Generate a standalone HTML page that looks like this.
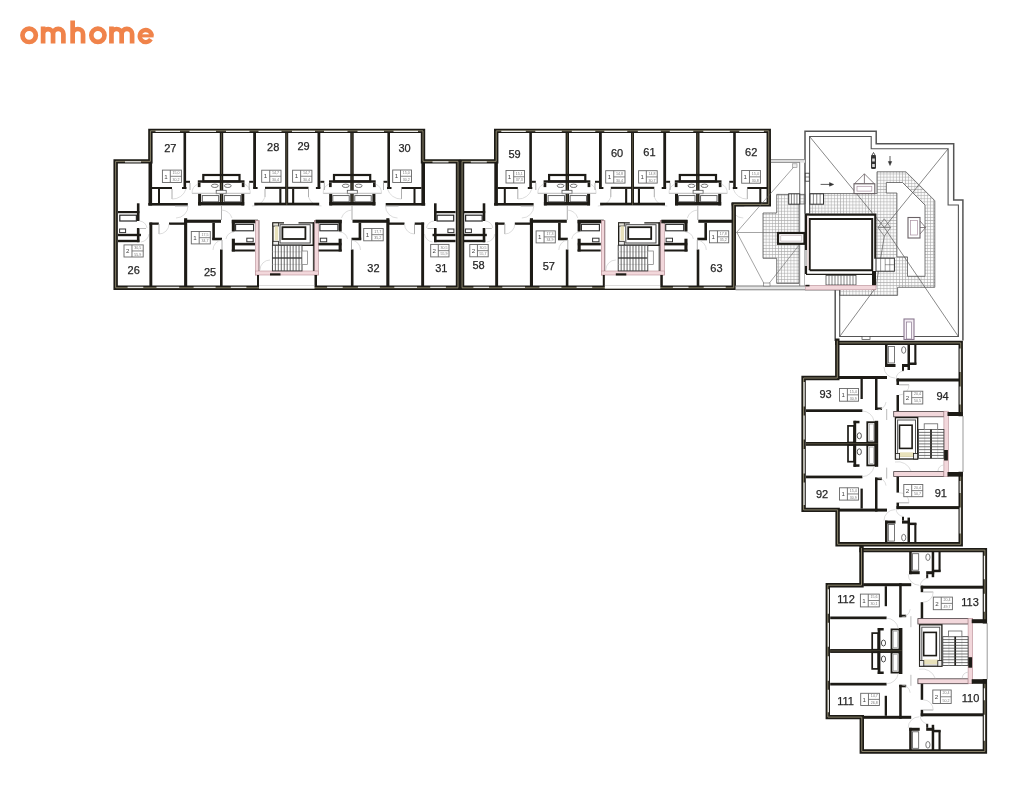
<!DOCTYPE html>
<html><head><meta charset="utf-8"><style>
html,body{margin:0;padding:0;background:#fff;width:1034px;height:800px;overflow:hidden}
svg{display:block;position:absolute;left:0;top:0;will-change:transform}
.logo{position:absolute;left:19.5px;top:15.5px;font:bold 30px "Liberation Sans",sans-serif;color:#ef8546;letter-spacing:2.1px;-webkit-text-stroke:0.8px #ef8546;z-index:2}
</style></head><body>
<svg width="1034" height="800" viewBox="0 0 1034 800">
<defs><pattern id="grid" width="3.1" height="3.1" patternUnits="userSpaceOnUse">
<rect width="3.1" height="3.1" fill="#fbfbfb"/><path d="M0,0.3 H3.1 M0.3,0 V3.1" stroke="#a4a4a4" stroke-width="0.6"/></pattern></defs>
<g><rect x="118" y="211" width="21.4" height="2.2" fill="#1d1b16"/><rect x="136.9" y="203.3" width="2.6" height="17.7" fill="#1d1b16"/><rect x="136.9" y="228" width="2.6" height="14.2" fill="#1d1b16"/><rect x="118" y="233.8" width="23" height="2.4" fill="#1d1b16"/><rect x="118" y="239.8" width="21.4" height="2.4" fill="#1d1b16"/><rect x="119.8" y="215.2" width="16.6" height="5.8" fill="#fff" stroke="#2a2a2a" stroke-width="1.2"/><rect x="119.6" y="229" width="6" height="3.6" fill="#fff" stroke="#333" stroke-width="1.0"/><line x1="139.5" y1="228.5" x2="146" y2="228.5" stroke="#aaa" stroke-width="0.8"/><path d="M139.5,221 A8,8 0 0 1 147,228" fill="none" stroke="#cfcfcf" stroke-width="0.7"/><path d="M141,242 A9,9 0 0 0 149,234" fill="none" stroke="#cfcfcf" stroke-width="0.7"/><rect x="148.5" y="163" width="3.6" height="42.5" fill="#1d1b16"/><rect x="148.3" y="203" width="39.5" height="2.6" fill="#1d1b16"/><rect x="152" y="187" width="20" height="2" fill="#1d1b16"/><rect x="158" y="189" width="2" height="14" fill="#1d1b16"/><line x1="172" y1="189" x2="172" y2="199" stroke="#999" stroke-width="0.8"/><line x1="175" y1="206" x2="188" y2="206" stroke="#999" stroke-width="0.8"/><path d="M172,199 A14,14 0 0 0 186,189" fill="none" stroke="#cfcfcf" stroke-width="0.7"/><path d="M188,206 A12,12 0 0 1 176,218" fill="none" stroke="#cfcfcf" stroke-width="0.7"/><rect x="183.5" y="133" width="2.6" height="55.5" fill="#1d1b16"/><rect x="182" y="187" width="4.5" height="2" fill="#1d1b16"/><rect x="186" y="180.8" width="4" height="2" fill="#1d1b16"/><line x1="190" y1="183" x2="190" y2="190" stroke="#999" stroke-width="0.8"/><rect x="219.8" y="133" width="3.4" height="72" fill="#1d1b16"/><line x1="221.5" y1="133" x2="221.5" y2="205" stroke="#6a644e" stroke-width="0.7"/><rect x="203.3" y="175" width="36.2" height="6.4" fill="none" stroke="#1d1b16" stroke-width="2.2"/><rect x="197.8" y="180.3" width="46.7" height="2.4" fill="#1d1b16"/><rect x="197.8" y="182.7" width="2.7" height="4.4" fill="#1d1b16"/><rect x="241.8" y="182.7" width="2.7" height="4.4" fill="#1d1b16"/><ellipse cx="214.8" cy="185.8" rx="3.4" ry="1.7" fill="#fff" stroke="#555" stroke-width="0.8"/><ellipse cx="227.8" cy="185.8" rx="3.4" ry="1.7" fill="#fff" stroke="#555" stroke-width="0.8"/><rect x="216.2" y="190.3" width="10" height="3.4" fill="#fff" stroke="#555" stroke-width="0.8"/><line x1="192" y1="193.3" x2="250.3" y2="193.3" stroke="#aaa" stroke-width="0.8"/><rect x="198.1" y="193.9" width="3" height="11.5" fill="#1d1b16"/><rect x="241.3" y="193.9" width="3" height="11.5" fill="#1d1b16"/><rect x="198.1" y="202" width="46.1" height="3.4" fill="#1d1b16"/><rect x="202.3" y="195.6" width="16.4" height="6.2" fill="#fff" stroke="#555" stroke-width="0.9"/><rect x="224.3" y="195.6" width="16.4" height="6.2" fill="#fff" stroke="#555" stroke-width="0.9"/><path d="M192,193.3 A10,10 0 0 1 198,184" fill="none" stroke="#cfcfcf" stroke-width="0.7"/><path d="M250.3,193.3 A10,10 0 0 0 244.5,184" fill="none" stroke="#cfcfcf" stroke-width="0.7"/><rect x="253.2" y="133" width="2.8" height="55.5" fill="#1d1b16"/><rect x="253.2" y="187" width="4.4" height="2" fill="#1d1b16"/><rect x="249.2" y="180.8" width="4" height="2" fill="#1d1b16"/><line x1="249.2" y1="183" x2="249.2" y2="190" stroke="#999" stroke-width="0.8"/><rect x="265" y="186.8" width="21.8" height="2.1" fill="#1d1b16"/><rect x="279.3" y="188.9" width="2.1" height="15.4" fill="#1d1b16"/><line x1="265" y1="189" x2="265" y2="197" stroke="#999" stroke-width="0.8"/><path d="M265,197 A13,13 0 0 1 252,206" fill="none" stroke="#cfcfcf" stroke-width="0.7"/><rect x="254.3" y="202.7" width="32.5" height="2.7" fill="#1d1b16"/><rect x="285.4" y="133" width="2.7" height="72" fill="#1d1b16"/><line x1="286.75" y1="133" x2="286.75" y2="205" stroke="#6a644e" stroke-width="0.7"/><rect x="149.4" y="222.5" width="2.9" height="64" fill="#1d1b16"/><rect x="149.4" y="222.5" width="9.4" height="2.3" fill="#1d1b16"/><rect x="169" y="222.5" width="16" height="2.3" fill="#1d1b16"/><line x1="159" y1="224" x2="159" y2="234" stroke="#999" stroke-width="0.8"/><path d="M159,234 A10,10 0 0 0 169,224" fill="none" stroke="#cfcfcf" stroke-width="0.7"/><rect x="184.1" y="218.2" width="3.1" height="68.2" fill="#1d1b16"/><rect x="184" y="219.7" width="37" height="3.1" fill="#1d1b16"/><rect x="212.3" y="222.8" width="2.6" height="17" fill="#1d1b16"/><rect x="212.3" y="237.7" width="9.7" height="2.6" fill="#1d1b16"/><line x1="221.5" y1="205" x2="221.5" y2="220" stroke="#999" stroke-width="0.8"/><path d="M221.5,210 A12,12 0 0 1 232,218" fill="none" stroke="#cfcfcf" stroke-width="0.7"/><rect x="220" y="249.5" width="2.6" height="37" fill="#1d1b16"/><line x1="222" y1="240" x2="222" y2="249.5" stroke="#999" stroke-width="0.8"/><path d="M222,240 A10,10 0 0 0 213,250" fill="none" stroke="#cfcfcf" stroke-width="0.7"/><path d="M234,232 A8,8 0 0 0 226,239" fill="none" stroke="#cfcfcf" stroke-width="0.7"/><rect x="231.8" y="219.7" width="26.2" height="3.6" fill="#1d1b16"/><rect x="231.8" y="220" width="3.1" height="11.5" fill="#1d1b16"/><rect x="231.8" y="238.7" width="3.1" height="12.8" fill="#1d1b16"/><rect x="232" y="242.8" width="23" height="2.6" fill="#1d1b16"/><rect x="231.8" y="249.5" width="23.1" height="2" fill="#1d1b16"/><rect x="235.6" y="224.4" width="18" height="6.4" fill="#fff" stroke="#2a2a2a" stroke-width="1.1"/><rect x="246.8" y="238.2" width="6.4" height="3.6" fill="#fff" stroke="#333" stroke-width="1.0"/><rect x="255.5" y="220.5" width="3.5" height="54.5" fill="#f2d7db" stroke="#b88e96" stroke-width="0.6"/><rect x="314.5" y="220.5" width="4" height="54.5" fill="#f2d7db" stroke="#b88e96" stroke-width="0.6"/><rect x="255.5" y="271" width="63" height="4" fill="#f2d7db" stroke="#b88e96" stroke-width="0.6"/><line x1="259" y1="220.5" x2="259" y2="271" stroke="#6d5a5e" stroke-width="0.6"/><line x1="314.5" y1="220.5" x2="314.5" y2="271" stroke="#6d5a5e" stroke-width="0.6"/><rect x="270" y="273.3" width="10.5" height="2.2" fill="#1d1b16"/><rect x="257" y="275" width="2" height="13" fill="#1d1b16"/><rect x="314.5" y="275" width="2.5" height="13" fill="#1d1b16"/><path d="M284,222.9 H272.9 V245.3 H313.3 V222.9 H298.5" fill="none" stroke="#1d1b16" stroke-width="1.4" /><rect x="280" y="224.7" width="30.2" height="18.3" fill="#fff" stroke="#444" stroke-width="1.0"/><rect x="282.4" y="227.2" width="23" height="11.8" fill="#fff" stroke="#1d1b16" stroke-width="1.8"/><rect x="272.9" y="222.9" width="5.6" height="3.2" fill="#e6e4da" stroke="#1d1b16" stroke-width="0.8"/><rect x="274.8" y="226.3" width="3.4" height="14" fill="#e9e2bb"/><rect x="272.9" y="241.3" width="5.6" height="3.8" fill="#f0f0f0" stroke="#1d1b16" stroke-width="0.8"/><rect x="272.4" y="245.3" width="29.6" height="25.6" fill="#fff" stroke="#333" stroke-width="0.9"/><line x1="272.4" y1="258" x2="302" y2="258" stroke="#222" stroke-width="1.2"/><line x1="272.4" y1="251.8" x2="302" y2="251.8" stroke="#bbb" stroke-width="0.5"/><line x1="272.4" y1="264.4" x2="302" y2="264.4" stroke="#bbb" stroke-width="0.5"/><rect x="302" y="251" width="5.5" height="13.5" fill="#fff" stroke="#777" stroke-width="0.7"/><line x1="313.4" y1="222" x2="313.4" y2="271" stroke="#1d1b16" stroke-width="0.9"/><line x1="275.35999999999996" y1="245.3" x2="275.35999999999996" y2="270.9" stroke="#333" stroke-width="0.75"/><line x1="278.32" y1="245.3" x2="278.32" y2="270.9" stroke="#333" stroke-width="0.75"/><line x1="281.28" y1="245.3" x2="281.28" y2="270.9" stroke="#333" stroke-width="0.75"/><line x1="284.23999999999995" y1="245.3" x2="284.23999999999995" y2="270.9" stroke="#333" stroke-width="0.75"/><line x1="287.2" y1="245.3" x2="287.2" y2="270.9" stroke="#333" stroke-width="0.75"/><line x1="290.15999999999997" y1="245.3" x2="290.15999999999997" y2="270.9" stroke="#333" stroke-width="0.75"/><line x1="293.12" y1="245.3" x2="293.12" y2="270.9" stroke="#333" stroke-width="0.75"/><line x1="296.08" y1="245.3" x2="296.08" y2="270.9" stroke="#333" stroke-width="0.75"/><line x1="299.03999999999996" y1="245.3" x2="299.03999999999996" y2="270.9" stroke="#333" stroke-width="0.75"/><path d="M260,270 A10,10 0 0 1 270,260" fill="none" stroke="#cfcfcf" stroke-width="0.7"/></g><g transform="matrix(-1 0 0 1 573.5 0)"><rect x="118" y="211" width="21.4" height="2.2" fill="#1d1b16"/><rect x="136.9" y="203.3" width="2.6" height="17.7" fill="#1d1b16"/><rect x="136.9" y="228" width="2.6" height="14.2" fill="#1d1b16"/><rect x="118" y="233.8" width="23" height="2.4" fill="#1d1b16"/><rect x="118" y="239.8" width="21.4" height="2.4" fill="#1d1b16"/><rect x="119.8" y="215.2" width="16.6" height="5.8" fill="#fff" stroke="#2a2a2a" stroke-width="1.2"/><rect x="119.6" y="229" width="6" height="3.6" fill="#fff" stroke="#333" stroke-width="1.0"/><line x1="139.5" y1="228.5" x2="146" y2="228.5" stroke="#aaa" stroke-width="0.8"/><path d="M139.5,221 A8,8 0 0 1 147,228" fill="none" stroke="#cfcfcf" stroke-width="0.7"/><path d="M141,242 A9,9 0 0 0 149,234" fill="none" stroke="#cfcfcf" stroke-width="0.7"/><rect x="148.5" y="163" width="3.6" height="42.5" fill="#1d1b16"/><rect x="148.3" y="203" width="39.5" height="2.6" fill="#1d1b16"/><rect x="152" y="187" width="20" height="2" fill="#1d1b16"/><rect x="158" y="189" width="2" height="14" fill="#1d1b16"/><line x1="172" y1="189" x2="172" y2="199" stroke="#999" stroke-width="0.8"/><line x1="175" y1="206" x2="188" y2="206" stroke="#999" stroke-width="0.8"/><path d="M172,199 A14,14 0 0 0 186,189" fill="none" stroke="#cfcfcf" stroke-width="0.7"/><path d="M188,206 A12,12 0 0 1 176,218" fill="none" stroke="#cfcfcf" stroke-width="0.7"/><rect x="183.5" y="133" width="2.6" height="55.5" fill="#1d1b16"/><rect x="182" y="187" width="4.5" height="2" fill="#1d1b16"/><rect x="186" y="180.8" width="4" height="2" fill="#1d1b16"/><line x1="190" y1="183" x2="190" y2="190" stroke="#999" stroke-width="0.8"/><rect x="219.8" y="133" width="3.4" height="72" fill="#1d1b16"/><line x1="221.5" y1="133" x2="221.5" y2="205" stroke="#6a644e" stroke-width="0.7"/><rect x="203.3" y="175" width="36.2" height="6.4" fill="none" stroke="#1d1b16" stroke-width="2.2"/><rect x="197.8" y="180.3" width="46.7" height="2.4" fill="#1d1b16"/><rect x="197.8" y="182.7" width="2.7" height="4.4" fill="#1d1b16"/><rect x="241.8" y="182.7" width="2.7" height="4.4" fill="#1d1b16"/><ellipse cx="214.8" cy="185.8" rx="3.4" ry="1.7" fill="#fff" stroke="#555" stroke-width="0.8"/><ellipse cx="227.8" cy="185.8" rx="3.4" ry="1.7" fill="#fff" stroke="#555" stroke-width="0.8"/><rect x="216.2" y="190.3" width="10" height="3.4" fill="#fff" stroke="#555" stroke-width="0.8"/><line x1="192" y1="193.3" x2="250.3" y2="193.3" stroke="#aaa" stroke-width="0.8"/><rect x="198.1" y="193.9" width="3" height="11.5" fill="#1d1b16"/><rect x="241.3" y="193.9" width="3" height="11.5" fill="#1d1b16"/><rect x="198.1" y="202" width="46.1" height="3.4" fill="#1d1b16"/><rect x="202.3" y="195.6" width="16.4" height="6.2" fill="#fff" stroke="#555" stroke-width="0.9"/><rect x="224.3" y="195.6" width="16.4" height="6.2" fill="#fff" stroke="#555" stroke-width="0.9"/><path d="M192,193.3 A10,10 0 0 1 198,184" fill="none" stroke="#cfcfcf" stroke-width="0.7"/><path d="M250.3,193.3 A10,10 0 0 0 244.5,184" fill="none" stroke="#cfcfcf" stroke-width="0.7"/><rect x="253.2" y="133" width="2.8" height="55.5" fill="#1d1b16"/><rect x="253.2" y="187" width="4.4" height="2" fill="#1d1b16"/><rect x="249.2" y="180.8" width="4" height="2" fill="#1d1b16"/><line x1="249.2" y1="183" x2="249.2" y2="190" stroke="#999" stroke-width="0.8"/><rect x="265" y="186.8" width="21.8" height="2.1" fill="#1d1b16"/><rect x="279.3" y="188.9" width="2.1" height="15.4" fill="#1d1b16"/><line x1="265" y1="189" x2="265" y2="197" stroke="#999" stroke-width="0.8"/><path d="M265,197 A13,13 0 0 1 252,206" fill="none" stroke="#cfcfcf" stroke-width="0.7"/><rect x="254.3" y="202.7" width="32.5" height="2.7" fill="#1d1b16"/><rect x="285.4" y="133" width="2.7" height="72" fill="#1d1b16"/><line x1="286.75" y1="133" x2="286.75" y2="205" stroke="#6a644e" stroke-width="0.7"/><rect x="149.4" y="222.5" width="2.9" height="64" fill="#1d1b16"/><rect x="149.4" y="222.5" width="9.4" height="2.3" fill="#1d1b16"/><rect x="169" y="222.5" width="16" height="2.3" fill="#1d1b16"/><line x1="159" y1="224" x2="159" y2="234" stroke="#999" stroke-width="0.8"/><path d="M159,234 A10,10 0 0 0 169,224" fill="none" stroke="#cfcfcf" stroke-width="0.7"/><rect x="184.1" y="218.2" width="3.1" height="68.2" fill="#1d1b16"/><rect x="184" y="219.7" width="37" height="3.1" fill="#1d1b16"/><rect x="212.3" y="222.8" width="2.6" height="17" fill="#1d1b16"/><rect x="212.3" y="237.7" width="9.7" height="2.6" fill="#1d1b16"/><line x1="221.5" y1="205" x2="221.5" y2="220" stroke="#999" stroke-width="0.8"/><path d="M221.5,210 A12,12 0 0 1 232,218" fill="none" stroke="#cfcfcf" stroke-width="0.7"/><rect x="220" y="249.5" width="2.6" height="37" fill="#1d1b16"/><line x1="222" y1="240" x2="222" y2="249.5" stroke="#999" stroke-width="0.8"/><path d="M222,240 A10,10 0 0 0 213,250" fill="none" stroke="#cfcfcf" stroke-width="0.7"/><path d="M234,232 A8,8 0 0 0 226,239" fill="none" stroke="#cfcfcf" stroke-width="0.7"/><rect x="231.8" y="219.7" width="26.2" height="3.6" fill="#1d1b16"/><rect x="231.8" y="220" width="3.1" height="11.5" fill="#1d1b16"/><rect x="231.8" y="238.7" width="3.1" height="12.8" fill="#1d1b16"/><rect x="232" y="242.8" width="23" height="2.6" fill="#1d1b16"/><rect x="231.8" y="249.5" width="23.1" height="2" fill="#1d1b16"/><rect x="235.6" y="224.4" width="18" height="6.4" fill="#fff" stroke="#2a2a2a" stroke-width="1.1"/><rect x="246.8" y="238.2" width="6.4" height="3.6" fill="#fff" stroke="#333" stroke-width="1.0"/></g><g transform="translate(345.8 0)"><rect x="118" y="211" width="21.4" height="2.2" fill="#1d1b16"/><rect x="136.9" y="203.3" width="2.6" height="17.7" fill="#1d1b16"/><rect x="136.9" y="228" width="2.6" height="14.2" fill="#1d1b16"/><rect x="118" y="233.8" width="23" height="2.4" fill="#1d1b16"/><rect x="118" y="239.8" width="21.4" height="2.4" fill="#1d1b16"/><rect x="119.8" y="215.2" width="16.6" height="5.8" fill="#fff" stroke="#2a2a2a" stroke-width="1.2"/><rect x="119.6" y="229" width="6" height="3.6" fill="#fff" stroke="#333" stroke-width="1.0"/><line x1="139.5" y1="228.5" x2="146" y2="228.5" stroke="#aaa" stroke-width="0.8"/><path d="M139.5,221 A8,8 0 0 1 147,228" fill="none" stroke="#cfcfcf" stroke-width="0.7"/><path d="M141,242 A9,9 0 0 0 149,234" fill="none" stroke="#cfcfcf" stroke-width="0.7"/><rect x="148.5" y="163" width="3.6" height="42.5" fill="#1d1b16"/><rect x="148.3" y="203" width="39.5" height="2.6" fill="#1d1b16"/><rect x="152" y="187" width="20" height="2" fill="#1d1b16"/><rect x="158" y="189" width="2" height="14" fill="#1d1b16"/><line x1="172" y1="189" x2="172" y2="199" stroke="#999" stroke-width="0.8"/><line x1="175" y1="206" x2="188" y2="206" stroke="#999" stroke-width="0.8"/><path d="M172,199 A14,14 0 0 0 186,189" fill="none" stroke="#cfcfcf" stroke-width="0.7"/><path d="M188,206 A12,12 0 0 1 176,218" fill="none" stroke="#cfcfcf" stroke-width="0.7"/><rect x="183.5" y="133" width="2.6" height="55.5" fill="#1d1b16"/><rect x="182" y="187" width="4.5" height="2" fill="#1d1b16"/><rect x="186" y="180.8" width="4" height="2" fill="#1d1b16"/><line x1="190" y1="183" x2="190" y2="190" stroke="#999" stroke-width="0.8"/><rect x="219.8" y="133" width="3.4" height="72" fill="#1d1b16"/><line x1="221.5" y1="133" x2="221.5" y2="205" stroke="#6a644e" stroke-width="0.7"/><rect x="203.3" y="175" width="36.2" height="6.4" fill="none" stroke="#1d1b16" stroke-width="2.2"/><rect x="197.8" y="180.3" width="46.7" height="2.4" fill="#1d1b16"/><rect x="197.8" y="182.7" width="2.7" height="4.4" fill="#1d1b16"/><rect x="241.8" y="182.7" width="2.7" height="4.4" fill="#1d1b16"/><ellipse cx="214.8" cy="185.8" rx="3.4" ry="1.7" fill="#fff" stroke="#555" stroke-width="0.8"/><ellipse cx="227.8" cy="185.8" rx="3.4" ry="1.7" fill="#fff" stroke="#555" stroke-width="0.8"/><rect x="216.2" y="190.3" width="10" height="3.4" fill="#fff" stroke="#555" stroke-width="0.8"/><line x1="192" y1="193.3" x2="250.3" y2="193.3" stroke="#aaa" stroke-width="0.8"/><rect x="198.1" y="193.9" width="3" height="11.5" fill="#1d1b16"/><rect x="241.3" y="193.9" width="3" height="11.5" fill="#1d1b16"/><rect x="198.1" y="202" width="46.1" height="3.4" fill="#1d1b16"/><rect x="202.3" y="195.6" width="16.4" height="6.2" fill="#fff" stroke="#555" stroke-width="0.9"/><rect x="224.3" y="195.6" width="16.4" height="6.2" fill="#fff" stroke="#555" stroke-width="0.9"/><path d="M192,193.3 A10,10 0 0 1 198,184" fill="none" stroke="#cfcfcf" stroke-width="0.7"/><path d="M250.3,193.3 A10,10 0 0 0 244.5,184" fill="none" stroke="#cfcfcf" stroke-width="0.7"/><rect x="253.2" y="133" width="2.8" height="55.5" fill="#1d1b16"/><rect x="253.2" y="187" width="4.4" height="2" fill="#1d1b16"/><rect x="249.2" y="180.8" width="4" height="2" fill="#1d1b16"/><line x1="249.2" y1="183" x2="249.2" y2="190" stroke="#999" stroke-width="0.8"/><rect x="265" y="186.8" width="21.8" height="2.1" fill="#1d1b16"/><rect x="279.3" y="188.9" width="2.1" height="15.4" fill="#1d1b16"/><line x1="265" y1="189" x2="265" y2="197" stroke="#999" stroke-width="0.8"/><path d="M265,197 A13,13 0 0 1 252,206" fill="none" stroke="#cfcfcf" stroke-width="0.7"/><rect x="254.3" y="202.7" width="32.5" height="2.7" fill="#1d1b16"/><rect x="285.4" y="133" width="2.7" height="72" fill="#1d1b16"/><line x1="286.75" y1="133" x2="286.75" y2="205" stroke="#6a644e" stroke-width="0.7"/><rect x="149.4" y="222.5" width="2.9" height="64" fill="#1d1b16"/><rect x="149.4" y="222.5" width="9.4" height="2.3" fill="#1d1b16"/><rect x="169" y="222.5" width="16" height="2.3" fill="#1d1b16"/><line x1="159" y1="224" x2="159" y2="234" stroke="#999" stroke-width="0.8"/><path d="M159,234 A10,10 0 0 0 169,224" fill="none" stroke="#cfcfcf" stroke-width="0.7"/><rect x="184.1" y="218.2" width="3.1" height="68.2" fill="#1d1b16"/><rect x="184" y="219.7" width="37" height="3.1" fill="#1d1b16"/><rect x="212.3" y="222.8" width="2.6" height="17" fill="#1d1b16"/><rect x="212.3" y="237.7" width="9.7" height="2.6" fill="#1d1b16"/><line x1="221.5" y1="205" x2="221.5" y2="220" stroke="#999" stroke-width="0.8"/><path d="M221.5,210 A12,12 0 0 1 232,218" fill="none" stroke="#cfcfcf" stroke-width="0.7"/><rect x="220" y="249.5" width="2.6" height="37" fill="#1d1b16"/><line x1="222" y1="240" x2="222" y2="249.5" stroke="#999" stroke-width="0.8"/><path d="M222,240 A10,10 0 0 0 213,250" fill="none" stroke="#cfcfcf" stroke-width="0.7"/><path d="M234,232 A8,8 0 0 0 226,239" fill="none" stroke="#cfcfcf" stroke-width="0.7"/><rect x="231.8" y="219.7" width="26.2" height="3.6" fill="#1d1b16"/><rect x="231.8" y="220" width="3.1" height="11.5" fill="#1d1b16"/><rect x="231.8" y="238.7" width="3.1" height="12.8" fill="#1d1b16"/><rect x="232" y="242.8" width="23" height="2.6" fill="#1d1b16"/><rect x="231.8" y="249.5" width="23.1" height="2" fill="#1d1b16"/><rect x="235.6" y="224.4" width="18" height="6.4" fill="#fff" stroke="#2a2a2a" stroke-width="1.1"/><rect x="246.8" y="238.2" width="6.4" height="3.6" fill="#fff" stroke="#333" stroke-width="1.0"/><rect x="255.5" y="220.5" width="3.5" height="54.5" fill="#f2d7db" stroke="#b88e96" stroke-width="0.6"/><rect x="314.5" y="220.5" width="4" height="54.5" fill="#f2d7db" stroke="#b88e96" stroke-width="0.6"/><rect x="255.5" y="271" width="63" height="4" fill="#f2d7db" stroke="#b88e96" stroke-width="0.6"/><line x1="259" y1="220.5" x2="259" y2="271" stroke="#6d5a5e" stroke-width="0.6"/><line x1="314.5" y1="220.5" x2="314.5" y2="271" stroke="#6d5a5e" stroke-width="0.6"/><rect x="270" y="273.3" width="10.5" height="2.2" fill="#1d1b16"/><rect x="257" y="275" width="2" height="13" fill="#1d1b16"/><rect x="314.5" y="275" width="2.5" height="13" fill="#1d1b16"/><path d="M284,222.9 H272.9 V245.3 H313.3 V222.9 H298.5" fill="none" stroke="#1d1b16" stroke-width="1.4" /><rect x="280" y="224.7" width="30.2" height="18.3" fill="#fff" stroke="#444" stroke-width="1.0"/><rect x="282.4" y="227.2" width="23" height="11.8" fill="#fff" stroke="#1d1b16" stroke-width="1.8"/><rect x="272.9" y="222.9" width="5.6" height="3.2" fill="#e6e4da" stroke="#1d1b16" stroke-width="0.8"/><rect x="274.8" y="226.3" width="3.4" height="14" fill="#e9e2bb"/><rect x="272.9" y="241.3" width="5.6" height="3.8" fill="#f0f0f0" stroke="#1d1b16" stroke-width="0.8"/><rect x="272.4" y="245.3" width="29.6" height="25.6" fill="#fff" stroke="#333" stroke-width="0.9"/><line x1="272.4" y1="258" x2="302" y2="258" stroke="#222" stroke-width="1.2"/><line x1="272.4" y1="251.8" x2="302" y2="251.8" stroke="#bbb" stroke-width="0.5"/><line x1="272.4" y1="264.4" x2="302" y2="264.4" stroke="#bbb" stroke-width="0.5"/><rect x="302" y="251" width="5.5" height="13.5" fill="#fff" stroke="#777" stroke-width="0.7"/><line x1="313.4" y1="222" x2="313.4" y2="271" stroke="#1d1b16" stroke-width="0.9"/><line x1="275.35999999999996" y1="245.3" x2="275.35999999999996" y2="270.9" stroke="#333" stroke-width="0.75"/><line x1="278.32" y1="245.3" x2="278.32" y2="270.9" stroke="#333" stroke-width="0.75"/><line x1="281.28" y1="245.3" x2="281.28" y2="270.9" stroke="#333" stroke-width="0.75"/><line x1="284.23999999999995" y1="245.3" x2="284.23999999999995" y2="270.9" stroke="#333" stroke-width="0.75"/><line x1="287.2" y1="245.3" x2="287.2" y2="270.9" stroke="#333" stroke-width="0.75"/><line x1="290.15999999999997" y1="245.3" x2="290.15999999999997" y2="270.9" stroke="#333" stroke-width="0.75"/><line x1="293.12" y1="245.3" x2="293.12" y2="270.9" stroke="#333" stroke-width="0.75"/><line x1="296.08" y1="245.3" x2="296.08" y2="270.9" stroke="#333" stroke-width="0.75"/><line x1="299.03999999999996" y1="245.3" x2="299.03999999999996" y2="270.9" stroke="#333" stroke-width="0.75"/><path d="M260,270 A10,10 0 0 1 270,260" fill="none" stroke="#cfcfcf" stroke-width="0.7"/></g><g transform="matrix(-1 0 0 1 919.3 0)"><rect x="148.5" y="163" width="3.6" height="42.5" fill="#1d1b16"/><rect x="148.3" y="203" width="39.5" height="2.6" fill="#1d1b16"/><rect x="152" y="187" width="20" height="2" fill="#1d1b16"/><rect x="158" y="189" width="2" height="14" fill="#1d1b16"/><line x1="172" y1="189" x2="172" y2="199" stroke="#999" stroke-width="0.8"/><line x1="175" y1="206" x2="188" y2="206" stroke="#999" stroke-width="0.8"/><path d="M172,199 A14,14 0 0 0 186,189" fill="none" stroke="#cfcfcf" stroke-width="0.7"/><path d="M188,206 A12,12 0 0 1 176,218" fill="none" stroke="#cfcfcf" stroke-width="0.7"/><rect x="183.5" y="133" width="2.6" height="55.5" fill="#1d1b16"/><rect x="182" y="187" width="4.5" height="2" fill="#1d1b16"/><rect x="186" y="180.8" width="4" height="2" fill="#1d1b16"/><line x1="190" y1="183" x2="190" y2="190" stroke="#999" stroke-width="0.8"/><rect x="219.8" y="133" width="3.4" height="72" fill="#1d1b16"/><line x1="221.5" y1="133" x2="221.5" y2="205" stroke="#6a644e" stroke-width="0.7"/><rect x="203.3" y="175" width="36.2" height="6.4" fill="none" stroke="#1d1b16" stroke-width="2.2"/><rect x="197.8" y="180.3" width="46.7" height="2.4" fill="#1d1b16"/><rect x="197.8" y="182.7" width="2.7" height="4.4" fill="#1d1b16"/><rect x="241.8" y="182.7" width="2.7" height="4.4" fill="#1d1b16"/><ellipse cx="214.8" cy="185.8" rx="3.4" ry="1.7" fill="#fff" stroke="#555" stroke-width="0.8"/><ellipse cx="227.8" cy="185.8" rx="3.4" ry="1.7" fill="#fff" stroke="#555" stroke-width="0.8"/><rect x="216.2" y="190.3" width="10" height="3.4" fill="#fff" stroke="#555" stroke-width="0.8"/><line x1="192" y1="193.3" x2="250.3" y2="193.3" stroke="#aaa" stroke-width="0.8"/><rect x="198.1" y="193.9" width="3" height="11.5" fill="#1d1b16"/><rect x="241.3" y="193.9" width="3" height="11.5" fill="#1d1b16"/><rect x="198.1" y="202" width="46.1" height="3.4" fill="#1d1b16"/><rect x="202.3" y="195.6" width="16.4" height="6.2" fill="#fff" stroke="#555" stroke-width="0.9"/><rect x="224.3" y="195.6" width="16.4" height="6.2" fill="#fff" stroke="#555" stroke-width="0.9"/><path d="M192,193.3 A10,10 0 0 1 198,184" fill="none" stroke="#cfcfcf" stroke-width="0.7"/><path d="M250.3,193.3 A10,10 0 0 0 244.5,184" fill="none" stroke="#cfcfcf" stroke-width="0.7"/><rect x="253.2" y="133" width="2.8" height="55.5" fill="#1d1b16"/><rect x="253.2" y="187" width="4.4" height="2" fill="#1d1b16"/><rect x="249.2" y="180.8" width="4" height="2" fill="#1d1b16"/><line x1="249.2" y1="183" x2="249.2" y2="190" stroke="#999" stroke-width="0.8"/><rect x="265" y="186.8" width="21.8" height="2.1" fill="#1d1b16"/><rect x="279.3" y="188.9" width="2.1" height="15.4" fill="#1d1b16"/><line x1="265" y1="189" x2="265" y2="197" stroke="#999" stroke-width="0.8"/><path d="M265,197 A13,13 0 0 1 252,206" fill="none" stroke="#cfcfcf" stroke-width="0.7"/><rect x="254.3" y="202.7" width="32.5" height="2.7" fill="#1d1b16"/><rect x="285.4" y="133" width="2.7" height="72" fill="#1d1b16"/><line x1="286.75" y1="133" x2="286.75" y2="205" stroke="#6a644e" stroke-width="0.7"/><rect x="184.1" y="218.2" width="3.1" height="68.2" fill="#1d1b16"/><rect x="184" y="219.7" width="37" height="3.1" fill="#1d1b16"/><rect x="212.3" y="222.8" width="2.6" height="17" fill="#1d1b16"/><rect x="212.3" y="237.7" width="9.7" height="2.6" fill="#1d1b16"/><line x1="221.5" y1="205" x2="221.5" y2="220" stroke="#999" stroke-width="0.8"/><path d="M221.5,210 A12,12 0 0 1 232,218" fill="none" stroke="#cfcfcf" stroke-width="0.7"/><rect x="220" y="249.5" width="2.6" height="37" fill="#1d1b16"/><line x1="222" y1="240" x2="222" y2="249.5" stroke="#999" stroke-width="0.8"/><path d="M222,240 A10,10 0 0 0 213,250" fill="none" stroke="#cfcfcf" stroke-width="0.7"/><path d="M234,232 A8,8 0 0 0 226,239" fill="none" stroke="#cfcfcf" stroke-width="0.7"/><rect x="231.8" y="219.7" width="26.2" height="3.6" fill="#1d1b16"/><rect x="231.8" y="220" width="3.1" height="11.5" fill="#1d1b16"/><rect x="231.8" y="238.7" width="3.1" height="12.8" fill="#1d1b16"/><rect x="232" y="242.8" width="23" height="2.6" fill="#1d1b16"/><rect x="231.8" y="249.5" width="23.1" height="2" fill="#1d1b16"/><rect x="235.6" y="224.4" width="18" height="6.4" fill="#fff" stroke="#2a2a2a" stroke-width="1.1"/><rect x="246.8" y="238.2" width="6.4" height="3.6" fill="#fff" stroke="#333" stroke-width="1.0"/></g><path d="M115.65,287.8 V161.35 H150.4 V130.85 H423 V161.35 H458 V287.8 Z" fill="none" stroke="#1d1b16" stroke-width="4.4" stroke-linejoin="miter" stroke-linecap="square"/><path d="M115.65,287.8 V161.35 H150.4 V130.85 H423 V161.35 H458 V287.8 Z" fill="none" stroke="#958f74" stroke-width="0.9" stroke-linejoin="miter"/><path d="M462.05000000000007,287.8 V161.35 H496.20000000000005 V130.85 H768.75 V204.4 H733.75 V287.8 Z" fill="none" stroke="#1d1b16" stroke-width="4.4" stroke-linejoin="miter" stroke-linecap="square"/><path d="M462.05000000000007,287.8 V161.35 H496.20000000000005 V130.85 H768.75 V204.4 H733.75 V287.8 Z" fill="none" stroke="#958f74" stroke-width="0.9" stroke-linejoin="miter"/><line x1="155.5" y1="131.35" x2="180" y2="131.35" stroke="#fff" stroke-width="1.1"/><line x1="393.5" y1="131.35" x2="418.0" y2="131.35" stroke="#fff" stroke-width="1.1"/><line x1="189.5" y1="131.35" x2="216" y2="131.35" stroke="#fff" stroke-width="1.1"/><line x1="357.5" y1="131.35" x2="384.0" y2="131.35" stroke="#fff" stroke-width="1.1"/><line x1="226" y1="131.35" x2="249.5" y2="131.35" stroke="#fff" stroke-width="1.1"/><line x1="324.0" y1="131.35" x2="347.5" y2="131.35" stroke="#fff" stroke-width="1.1"/><line x1="258.5" y1="131.35" x2="281.5" y2="131.35" stroke="#fff" stroke-width="1.1"/><line x1="292.0" y1="131.35" x2="315.0" y2="131.35" stroke="#fff" stroke-width="1.1"/><line x1="125" y1="161.85" x2="141" y2="161.85" stroke="#fff" stroke-width="1.1"/><line x1="432.5" y1="161.85" x2="448.5" y2="161.85" stroke="#fff" stroke-width="1.1"/><line x1="127.6" y1="287.3" x2="143.3" y2="287.3" stroke="#fff" stroke-width="1.1"/><line x1="430.2" y1="287.3" x2="445.9" y2="287.3" stroke="#fff" stroke-width="1.1"/><line x1="156.5" y1="287.3" x2="179.2" y2="287.3" stroke="#fff" stroke-width="1.1"/><line x1="394.3" y1="287.3" x2="417.0" y2="287.3" stroke="#fff" stroke-width="1.1"/><line x1="193.6" y1="287.3" x2="215.6" y2="287.3" stroke="#fff" stroke-width="1.1"/><line x1="357.9" y1="287.3" x2="379.9" y2="287.3" stroke="#fff" stroke-width="1.1"/><line x1="230.8" y1="287.3" x2="246.4" y2="287.3" stroke="#fff" stroke-width="1.1"/><line x1="327.1" y1="287.3" x2="342.7" y2="287.3" stroke="#fff" stroke-width="1.1"/><rect x="259" y="285.3" width="55.5" height="3.3" fill="#fff"/><line x1="501.3" y1="131.35" x2="525.8" y2="131.35" stroke="#fff" stroke-width="1.1"/><line x1="535.3" y1="131.35" x2="561.8" y2="131.35" stroke="#fff" stroke-width="1.1"/><line x1="571.8" y1="131.35" x2="595.3" y2="131.35" stroke="#fff" stroke-width="1.1"/><line x1="604.3" y1="131.35" x2="627.3" y2="131.35" stroke="#fff" stroke-width="1.1"/><line x1="470.8" y1="161.85" x2="486.8" y2="161.85" stroke="#fff" stroke-width="1.1"/><line x1="473.4" y1="287.3" x2="489.1" y2="287.3" stroke="#fff" stroke-width="1.1"/><line x1="502.3" y1="287.3" x2="525.0" y2="287.3" stroke="#fff" stroke-width="1.1"/><line x1="539.4" y1="287.3" x2="561.4" y2="287.3" stroke="#fff" stroke-width="1.1"/><line x1="576.6" y1="287.3" x2="592.2" y2="287.3" stroke="#fff" stroke-width="1.1"/><line x1="739.3" y1="131.35" x2="763.8" y2="131.35" stroke="#fff" stroke-width="1.1"/><line x1="703.3" y1="131.35" x2="729.8" y2="131.35" stroke="#fff" stroke-width="1.1"/><line x1="669.8" y1="131.35" x2="693.3" y2="131.35" stroke="#fff" stroke-width="1.1"/><line x1="637.8" y1="131.35" x2="660.8" y2="131.35" stroke="#fff" stroke-width="1.1"/><line x1="703.7" y1="287.3" x2="725.7" y2="287.3" stroke="#fff" stroke-width="1.1"/><line x1="672.9000000000001" y1="287.3" x2="688.5" y2="287.3" stroke="#fff" stroke-width="1.1"/><rect x="604.8" y="285.3" width="55.5" height="3.3" fill="#fff"/><g><path fill="url(#grid)" stroke="#555" stroke-width="0.8" fill-rule="evenodd" d="M809.6,193.6 H877 V171.8 H905.9 L934.8,200.6 V287.3 H897.6 V295.4 H839.5 V290 H805 V213.7 H809.6 Z M886.3,182.5 H902.5 L925,205 V276.3 H907.5 V256.9 H896.9 V193 H886.3 Z"/><path fill="url(#grid)" stroke="#555" stroke-width="0.8" d="M776.7,194.4 H805 V204 H799 V283.4 H776.7 V258.3 H763 V213 H776.7 Z"/><path d="M805,213.7 V131.2 H876.2 V143.8 H953.7 V200 H962.9 V340.5" fill="none" stroke="#555" stroke-width="1.5" /><path d="M809.6,213.7 V136.5 H871.2 V148.8 H948.1 V205 H958.4 V336.5 H839.7 V290" fill="none" stroke="#555" stroke-width="1.1" /><path d="M835.2,290 V341" fill="none" stroke="#555" stroke-width="1.5" /><rect x="771" y="159.4" width="34" height="3.3" fill="#e4e4e4"/><path d="M771,159.6 H805 M771,162.4 H800" fill="none" stroke="#777" stroke-width="0.8" /><rect x="735.6" y="285.8" width="69.4" height="4" fill="#e4e4e4"/><path d="M735.6,286 H805 M735.6,289.8 H805" fill="none" stroke="#777" stroke-width="0.9" /><path d="M799.7,162.4 V286" fill="none" stroke="#777" stroke-width="0.9" /><line x1="809.6" y1="136.5" x2="884.3" y2="227.5" stroke="#555" stroke-width="0.7"/><line x1="948.1" y1="148.8" x2="884.3" y2="227.5" stroke="#555" stroke-width="0.7"/><line x1="958.4" y1="336.5" x2="884.3" y2="227.5" stroke="#555" stroke-width="0.7"/><path d="M839.7,336.5 L875.8,287.5 L884.3,236.2" fill="none" stroke="#555" stroke-width="0.7" /><path d="M878,227.5 L884.3,218.8 L890.6,227.5 L884.3,236.2 Z M878,227.5 H890.6" fill="none" stroke="#666" stroke-width="0.7" /><line x1="796" y1="164.5" x2="736.5" y2="232.5" stroke="#666" stroke-width="0.6"/><line x1="736.5" y1="232.5" x2="777" y2="232.5" stroke="#666" stroke-width="0.6"/><line x1="736.9" y1="232.5" x2="763.7" y2="283" stroke="#666" stroke-width="0.6"/><line x1="798.7" y1="245.6" x2="769.4" y2="283" stroke="#666" stroke-width="0.6"/><rect x="763.5" y="283" width="6.5" height="3" fill="#fff" stroke="#666" stroke-width="0.6"/><rect x="792.5" y="163.8" width="4.5" height="3.7" fill="#eee" stroke="#888" stroke-width="0.6"/><rect x="778" y="233" width="26.5" height="10.8" fill="#fff" stroke="#1d1b16" stroke-width="2.2"/><rect x="780.8" y="235.7" width="21" height="5.4" fill="#fff" stroke="#b9a9ad" stroke-width="0.6"/><rect x="788.7" y="193.8" width="11" height="10.4" fill="#fff" stroke="#333" stroke-width="1.0"/><line x1="791.45" y1="193.8" x2="791.45" y2="204.2" stroke="#333" stroke-width="0.6"/><line x1="794.2" y1="193.8" x2="794.2" y2="204.2" stroke="#333" stroke-width="0.6"/><line x1="796.95" y1="193.8" x2="796.95" y2="204.2" stroke="#333" stroke-width="0.6"/><rect x="810" y="193.8" width="13.5" height="10.4" fill="#fff" stroke="#333" stroke-width="1.0"/><line x1="813.375" y1="193.8" x2="813.375" y2="204.2" stroke="#333" stroke-width="0.6"/><line x1="816.75" y1="193.8" x2="816.75" y2="204.2" stroke="#333" stroke-width="0.6"/><line x1="820.125" y1="193.8" x2="820.125" y2="204.2" stroke="#333" stroke-width="0.6"/><rect x="805" y="213.7" width="71.3" height="76.3" fill="#fff"/><path d="M806,250 V214.7 H875.3 V258.8" fill="none" stroke="#1d1b16" stroke-width="2.2" /><path d="M806,266 V274" fill="none" stroke="#1d1b16" stroke-width="2.2" /><path d="M809.7,270.3 V219 H872.2 V270.3 H809.7" fill="none" stroke="#1d1b16" stroke-width="2.0" /><rect x="807.1" y="215.8" width="1.6" height="53" fill="#e8d8d8"/><line x1="806" y1="250" x2="806" y2="266" stroke="#888" stroke-width="1"/><rect x="876" y="258.2" width="18.4" height="13" fill="#fff" stroke="#333" stroke-width="1.0"/><line x1="880.6" y1="258.2" x2="880.6" y2="271.2" stroke="#444" stroke-width="0.5"/><line x1="885.2" y1="258.2" x2="885.2" y2="271.2" stroke="#444" stroke-width="0.5"/><line x1="889.8" y1="258.2" x2="889.8" y2="271.2" stroke="#444" stroke-width="0.5"/><line x1="885" y1="264.7" x2="894.4" y2="264.7" stroke="#444" stroke-width="0.5"/><line x1="806" y1="274.4" x2="874" y2="274.4" stroke="#1d1b16" stroke-width="1.4"/><rect x="872" y="271" width="4" height="19" fill="#1d1b16"/><rect x="826" y="275.5" width="30" height="9.5" fill="#fff" stroke="#333" stroke-width="0.7"/><line x1="829" y1="275.5" x2="829" y2="285" stroke="#333" stroke-width="0.6"/><line x1="832" y1="275.5" x2="832" y2="285" stroke="#333" stroke-width="0.6"/><line x1="835" y1="275.5" x2="835" y2="285" stroke="#333" stroke-width="0.6"/><line x1="838" y1="275.5" x2="838" y2="285" stroke="#333" stroke-width="0.6"/><line x1="841" y1="275.5" x2="841" y2="285" stroke="#333" stroke-width="0.6"/><line x1="844" y1="275.5" x2="844" y2="285" stroke="#333" stroke-width="0.6"/><line x1="847" y1="275.5" x2="847" y2="285" stroke="#333" stroke-width="0.6"/><line x1="850" y1="275.5" x2="850" y2="285" stroke="#333" stroke-width="0.6"/><line x1="853" y1="275.5" x2="853" y2="285" stroke="#333" stroke-width="0.6"/><rect x="805.5" y="285.3" width="70.5" height="4.5" fill="#f2d7db" stroke="#b88e96" stroke-width="0.6"/><rect x="805.5" y="284.8" width="4" height="1.6" fill="#1d1b16"/><path d="M854.4,183.8 L864.4,173.8 L874.4,183.8 Z M864.4,173.8 V183.8" fill="none" stroke="#6b6266" stroke-width="0.8" /><rect x="854" y="183.8" width="20.8" height="9.8" fill="#fff" stroke="#6b6266" stroke-width="1.1"/><rect x="857" y="186.3" width="14.8" height="4.8" fill="#fff" stroke="#a88fa0" stroke-width="0.7"/><rect x="908" y="217.5" width="12" height="20.5" fill="#fff" stroke="#6b6266" stroke-width="1.1"/><rect x="910.5" y="220.5" width="7" height="14.5" fill="#fff" stroke="#a88fa0" stroke-width="0.7"/><path d="M920,221 L925.6,227.5 L920,234 M920,227.5 H925.6" fill="none" stroke="#6b6266" stroke-width="0.8" /><rect x="871" y="155" width="5" height="14" rx="1.5" fill="#333"/><rect x="872.2" y="158.5" width="2.6" height="3" fill="#ddd"/><rect x="872.2" y="164" width="2.6" height="3" fill="#ddd"/><path d="M871.5,156 L873.5,152.5 L875.5,156" fill="none" stroke="#333" stroke-width="0.8" /><line x1="820.6" y1="184.4" x2="831.5" y2="184.4" stroke="#333" stroke-width="0.8"/><path d="M829.5,182.6 L833.7,184.4 L829.5,186.2 Z" fill="#333" stroke="#333" stroke-width="0.5" /><line x1="890" y1="156" x2="890" y2="163" stroke="#333" stroke-width="0.8"/><path d="M888.3,161.5 L890,165.5 L891.7,161.5 Z" fill="#333" stroke="#333" stroke-width="0.5" /><rect x="805.3" y="173.2" width="4" height="8" fill="#fff" stroke="#333" stroke-width="0.8"/><line x1="805.3" y1="177" x2="809.3" y2="177" stroke="#333" stroke-width="0.6"/><rect x="904" y="319" width="10" height="20.5" fill="#f4eef4" stroke="#8a7890" stroke-width="1.1"/><rect x="906.5" y="322" width="5" height="17" fill="#fff" stroke="#8a7890" stroke-width="0.7"/><rect x="862" y="336.5" width="8" height="3" fill="#fff" stroke="#444" stroke-width="0.7"/></g><g><rect x="839" y="376" width="48" height="3" fill="#1d1b16"/><rect x="885" y="344.5" width="2.5" height="22.5" fill="#1d1b16"/><rect x="885" y="364" width="10.5" height="3" fill="#1d1b16"/><rect x="888.3" y="346.5" width="6.2" height="16.5" fill="#fff" stroke="#555" stroke-width="0.8"/><ellipse cx="903.7" cy="350" rx="2.1" ry="3.3" fill="#fff" stroke="#555" stroke-width="0.8"/><rect x="907.5" y="344.5" width="2.5" height="25.5" fill="#1d1b16"/><rect x="902" y="364" width="8" height="3" fill="#1d1b16"/><rect x="902" y="367" width="2" height="4" fill="#1d1b16"/><rect x="914.3" y="344.5" width="2.1" height="20" fill="#1d1b16"/><rect x="908" y="362.5" width="8.4" height="2.5" fill="#1d1b16"/><rect x="896.5" y="378.5" width="64.2" height="3" fill="#1d1b16"/><rect x="860.5" y="379" width="2.3" height="20" fill="#1d1b16"/><rect x="806" y="409.3" width="56.4" height="2.7" fill="#1d1b16"/><rect x="875" y="376" width="2.5" height="34" fill="#1d1b16"/><rect x="875" y="407.5" width="7" height="2.5" fill="#1d1b16"/><rect x="806" y="442.1" width="71.5" height="3.5" fill="#1d1b16"/><line x1="806" y1="443.85" x2="877.5" y2="443.85" stroke="#6a644e" stroke-width="0.7"/><rect x="848" y="425.9" width="6" height="16.6" fill="#fff" stroke="#1d1b16" stroke-width="1.7"/><rect x="853.5" y="420.8" width="2.7" height="23" fill="#1d1b16"/><rect x="853.5" y="420.8" width="6" height="2.5" fill="#1d1b16"/><ellipse cx="859.3" cy="435.8" rx="2.1" ry="3.0" fill="#fff" stroke="#444" stroke-width="0.9"/><rect x="867.3" y="422.2" width="8" height="20.2" fill="#fff" stroke="#1d1b16" stroke-width="1.8"/><rect x="869.3" y="424" width="4" height="16.5" fill="#fff" stroke="#999" stroke-width="0.6"/><rect x="874.8" y="420.8" width="3.4" height="23" fill="#1d1b16"/><rect x="896.5" y="378.5" width="2.5" height="6.5" fill="#1d1b16"/><rect x="896.5" y="395" width="2.5" height="16.5" fill="#1d1b16"/><line x1="899" y1="384.8" x2="909" y2="384.8" stroke="#999" stroke-width="0.8"/><path d="M909,384.8 A10,10 0 0 1 899,395" fill="none" stroke="#cfcfcf" stroke-width="0.7"/><path d="M877.5,410 A9,9 0 0 0 886,402" fill="none" stroke="#cfcfcf" stroke-width="0.7"/><path d="M862.4,411 A12,12 0 0 1 874,421" fill="none" stroke="#cfcfcf" stroke-width="0.7"/><path d="M884,367 A11,11 0 0 0 895,378" fill="none" stroke="#cfcfcf" stroke-width="0.7"/><path d="M904,371 A8,8 0 0 0 896,379" fill="none" stroke="#cfcfcf" stroke-width="0.7"/><line x1="886.7" y1="409" x2="886.7" y2="420" stroke="#aaa" stroke-width="0.8"/></g><g transform="matrix(1 0 0 -1 0 887.6)"><rect x="839" y="376" width="48" height="3" fill="#1d1b16"/><rect x="885" y="344.5" width="2.5" height="22.5" fill="#1d1b16"/><rect x="885" y="364" width="10.5" height="3" fill="#1d1b16"/><rect x="888.3" y="346.5" width="6.2" height="16.5" fill="#fff" stroke="#555" stroke-width="0.8"/><ellipse cx="903.7" cy="350" rx="2.1" ry="3.3" fill="#fff" stroke="#555" stroke-width="0.8"/><rect x="907.5" y="344.5" width="2.5" height="25.5" fill="#1d1b16"/><rect x="902" y="364" width="8" height="3" fill="#1d1b16"/><rect x="902" y="367" width="2" height="4" fill="#1d1b16"/><rect x="914.3" y="344.5" width="2.1" height="20" fill="#1d1b16"/><rect x="908" y="362.5" width="8.4" height="2.5" fill="#1d1b16"/><rect x="896.5" y="378.5" width="64.2" height="3" fill="#1d1b16"/><rect x="860.5" y="379" width="2.3" height="20" fill="#1d1b16"/><rect x="806" y="409.3" width="56.4" height="2.7" fill="#1d1b16"/><rect x="875" y="376" width="2.5" height="34" fill="#1d1b16"/><rect x="875" y="407.5" width="7" height="2.5" fill="#1d1b16"/><rect x="806" y="442.1" width="71.5" height="3.5" fill="#1d1b16"/><line x1="806" y1="443.85" x2="877.5" y2="443.85" stroke="#6a644e" stroke-width="0.7"/><rect x="848" y="425.9" width="6" height="16.6" fill="#fff" stroke="#1d1b16" stroke-width="1.7"/><rect x="853.5" y="420.8" width="2.7" height="23" fill="#1d1b16"/><rect x="853.5" y="420.8" width="6" height="2.5" fill="#1d1b16"/><ellipse cx="859.3" cy="435.8" rx="2.1" ry="3.0" fill="#fff" stroke="#444" stroke-width="0.9"/><rect x="867.3" y="422.2" width="8" height="20.2" fill="#fff" stroke="#1d1b16" stroke-width="1.8"/><rect x="869.3" y="424" width="4" height="16.5" fill="#fff" stroke="#999" stroke-width="0.6"/><rect x="874.8" y="420.8" width="3.4" height="23" fill="#1d1b16"/><rect x="896.5" y="378.5" width="2.5" height="6.5" fill="#1d1b16"/><rect x="896.5" y="395" width="2.5" height="16.5" fill="#1d1b16"/><line x1="899" y1="384.8" x2="909" y2="384.8" stroke="#999" stroke-width="0.8"/><path d="M909,384.8 A10,10 0 0 1 899,395" fill="none" stroke="#cfcfcf" stroke-width="0.7"/><path d="M877.5,410 A9,9 0 0 0 886,402" fill="none" stroke="#cfcfcf" stroke-width="0.7"/><path d="M862.4,411 A12,12 0 0 1 874,421" fill="none" stroke="#cfcfcf" stroke-width="0.7"/><path d="M884,367 A11,11 0 0 0 895,378" fill="none" stroke="#cfcfcf" stroke-width="0.7"/><path d="M904,371 A8,8 0 0 0 896,379" fill="none" stroke="#cfcfcf" stroke-width="0.7"/><line x1="886.7" y1="409" x2="886.7" y2="420" stroke="#aaa" stroke-width="0.8"/></g><g><rect x="893.7" y="411.4" width="50.4" height="5.4" fill="#f2d7db" stroke="#4a3f42" stroke-width="0.8"/><rect x="893.7" y="471.6" width="50.4" height="4.9" fill="#f2d7db" stroke="#4a3f42" stroke-width="0.8"/><rect x="943.9" y="411.2" width="4.6" height="65.3" fill="#f2d7db" stroke="#b88e96" stroke-width="0.6"/><rect x="895.4" y="417.6" width="22.3" height="41.4" fill="#fff" stroke="#1d1b16" stroke-width="1.3"/><rect x="897.6" y="420" width="17.9" height="36.5" fill="#fff" stroke="#555" stroke-width="1.0"/><rect x="899.5" y="425.2" width="12.6" height="23.2" fill="#fff" stroke="#1d1b16" stroke-width="1.6"/><rect x="899.5" y="452.3" width="14.5" height="4.6" fill="#e9e2bb"/><rect x="895.4" y="453.4" width="4.2" height="5.6" fill="#eee" stroke="#1d1b16" stroke-width="0.8"/><rect x="913.6" y="453.4" width="4.1" height="5.6" fill="#eee" stroke="#1d1b16" stroke-width="0.8"/><rect x="918.6" y="429.5" width="25.3" height="28.8" fill="#fff" stroke="#333" stroke-width="0.8"/><rect x="924.2" y="423.8" width="13.5" height="5.7" fill="#fff" stroke="#666" stroke-width="0.8"/><line x1="924.7" y1="429.5" x2="924.7" y2="458.3" stroke="#bbb" stroke-width="0.5"/><line x1="937.7" y1="429.5" x2="937.7" y2="458.3" stroke="#bbb" stroke-width="0.5"/><line x1="931" y1="429.5" x2="931" y2="458.3" stroke="#1d1b16" stroke-width="1.7"/><rect x="944.1" y="450" width="3.8" height="10.5" fill="#1d1b16"/><line x1="963" y1="416" x2="963" y2="472" stroke="#999" stroke-width="1.0"/><path d="M938,471 A6,6 0 0 1 944,465" fill="none" stroke="#cfcfcf" stroke-width="0.7"/><path d="M895,462 A14,14 0 0 1 911,471" fill="none" stroke="#cfcfcf" stroke-width="0.7"/><line x1="918.6" y1="432.38" x2="943.9" y2="432.38" stroke="#444" stroke-width="0.75"/><line x1="918.6" y1="435.26" x2="943.9" y2="435.26" stroke="#444" stroke-width="0.75"/><line x1="918.6" y1="438.14" x2="943.9" y2="438.14" stroke="#444" stroke-width="0.75"/><line x1="918.6" y1="441.02" x2="943.9" y2="441.02" stroke="#444" stroke-width="0.75"/><line x1="918.6" y1="443.9" x2="943.9" y2="443.9" stroke="#444" stroke-width="0.75"/><line x1="918.6" y1="446.78" x2="943.9" y2="446.78" stroke="#444" stroke-width="0.75"/><line x1="918.6" y1="449.66" x2="943.9" y2="449.66" stroke="#444" stroke-width="0.75"/><line x1="918.6" y1="452.54" x2="943.9" y2="452.54" stroke="#444" stroke-width="0.75"/><line x1="918.6" y1="455.42" x2="943.9" y2="455.42" stroke="#444" stroke-width="0.75"/></g><path d="M837.3,342.9 H960.7 V414" fill="none" stroke="#1d1b16" stroke-width="4.4" stroke-linejoin="miter" stroke-linecap="square"/><path d="M837.3,342.9 H960.7 V414" fill="none" stroke="#958f74" stroke-width="0.9" stroke-linejoin="miter"/><path d="M960.7,474 V544.3 H837.6 V509.9 H803.6 V378 H837.3 V340.7" fill="none" stroke="#1d1b16" stroke-width="4.4" stroke-linejoin="miter" stroke-linecap="square"/><path d="M960.7,474 V544.3 H837.6 V509.9 H803.6 V378 H837.3 V340.7" fill="none" stroke="#958f74" stroke-width="0.9" stroke-linejoin="miter"/><rect x="947.5" y="412" width="15.2" height="4" fill="#1d1b16"/><rect x="947.5" y="472" width="15.2" height="4.6" fill="#1d1b16"/><line x1="804.1" y1="382" x2="804.1" y2="406.5" stroke="#fff" stroke-width="1.1"/><line x1="804.1" y1="415.5" x2="804.1" y2="439.5" stroke="#fff" stroke-width="1.1"/><line x1="804.1" y1="449" x2="804.1" y2="473.5" stroke="#fff" stroke-width="1.1"/><line x1="804.1" y1="482.5" x2="804.1" y2="505" stroke="#fff" stroke-width="1.1"/><line x1="960.2" y1="348.5" x2="960.2" y2="372" stroke="#fff" stroke-width="1.1"/><line x1="960.2" y1="386.5" x2="960.2" y2="404.5" stroke="#fff" stroke-width="1.1"/><line x1="960.2" y1="481" x2="960.2" y2="493" stroke="#fff" stroke-width="1.1"/><line x1="960.2" y1="507.5" x2="960.2" y2="533.5" stroke="#fff" stroke-width="1.1"/><g transform="translate(24.2 207.2)"><g><rect x="839" y="376" width="48" height="3" fill="#1d1b16"/><rect x="885" y="344.5" width="2.5" height="22.5" fill="#1d1b16"/><rect x="885" y="364" width="10.5" height="3" fill="#1d1b16"/><rect x="888.3" y="346.5" width="6.2" height="16.5" fill="#fff" stroke="#555" stroke-width="0.8"/><ellipse cx="903.7" cy="350" rx="2.1" ry="3.3" fill="#fff" stroke="#555" stroke-width="0.8"/><rect x="907.5" y="344.5" width="2.5" height="25.5" fill="#1d1b16"/><rect x="902" y="364" width="8" height="3" fill="#1d1b16"/><rect x="902" y="367" width="2" height="4" fill="#1d1b16"/><rect x="914.3" y="344.5" width="2.1" height="20" fill="#1d1b16"/><rect x="908" y="362.5" width="8.4" height="2.5" fill="#1d1b16"/><rect x="896.5" y="378.5" width="64.2" height="3" fill="#1d1b16"/><rect x="860.5" y="379" width="2.3" height="20" fill="#1d1b16"/><rect x="806" y="409.3" width="56.4" height="2.7" fill="#1d1b16"/><rect x="875" y="376" width="2.5" height="34" fill="#1d1b16"/><rect x="875" y="407.5" width="7" height="2.5" fill="#1d1b16"/><rect x="806" y="442.1" width="71.5" height="3.5" fill="#1d1b16"/><line x1="806" y1="443.85" x2="877.5" y2="443.85" stroke="#6a644e" stroke-width="0.7"/><rect x="848" y="425.9" width="6" height="16.6" fill="#fff" stroke="#1d1b16" stroke-width="1.7"/><rect x="853.5" y="420.8" width="2.7" height="23" fill="#1d1b16"/><rect x="853.5" y="420.8" width="6" height="2.5" fill="#1d1b16"/><ellipse cx="859.3" cy="435.8" rx="2.1" ry="3.0" fill="#fff" stroke="#444" stroke-width="0.9"/><rect x="867.3" y="422.2" width="8" height="20.2" fill="#fff" stroke="#1d1b16" stroke-width="1.8"/><rect x="869.3" y="424" width="4" height="16.5" fill="#fff" stroke="#999" stroke-width="0.6"/><rect x="874.8" y="420.8" width="3.4" height="23" fill="#1d1b16"/><rect x="896.5" y="378.5" width="2.5" height="6.5" fill="#1d1b16"/><rect x="896.5" y="395" width="2.5" height="16.5" fill="#1d1b16"/><line x1="899" y1="384.8" x2="909" y2="384.8" stroke="#999" stroke-width="0.8"/><path d="M909,384.8 A10,10 0 0 1 899,395" fill="none" stroke="#cfcfcf" stroke-width="0.7"/><path d="M877.5,410 A9,9 0 0 0 886,402" fill="none" stroke="#cfcfcf" stroke-width="0.7"/><path d="M862.4,411 A12,12 0 0 1 874,421" fill="none" stroke="#cfcfcf" stroke-width="0.7"/><path d="M884,367 A11,11 0 0 0 895,378" fill="none" stroke="#cfcfcf" stroke-width="0.7"/><path d="M904,371 A8,8 0 0 0 896,379" fill="none" stroke="#cfcfcf" stroke-width="0.7"/><line x1="886.7" y1="409" x2="886.7" y2="420" stroke="#aaa" stroke-width="0.8"/></g><g transform="matrix(1 0 0 -1 0 887.6)"><rect x="839" y="376" width="48" height="3" fill="#1d1b16"/><rect x="885" y="344.5" width="2.5" height="22.5" fill="#1d1b16"/><rect x="885" y="364" width="10.5" height="3" fill="#1d1b16"/><rect x="888.3" y="346.5" width="6.2" height="16.5" fill="#fff" stroke="#555" stroke-width="0.8"/><ellipse cx="903.7" cy="350" rx="2.1" ry="3.3" fill="#fff" stroke="#555" stroke-width="0.8"/><rect x="907.5" y="344.5" width="2.5" height="25.5" fill="#1d1b16"/><rect x="902" y="364" width="8" height="3" fill="#1d1b16"/><rect x="902" y="367" width="2" height="4" fill="#1d1b16"/><rect x="914.3" y="344.5" width="2.1" height="20" fill="#1d1b16"/><rect x="908" y="362.5" width="8.4" height="2.5" fill="#1d1b16"/><rect x="896.5" y="378.5" width="64.2" height="3" fill="#1d1b16"/><rect x="860.5" y="379" width="2.3" height="20" fill="#1d1b16"/><rect x="806" y="409.3" width="56.4" height="2.7" fill="#1d1b16"/><rect x="875" y="376" width="2.5" height="34" fill="#1d1b16"/><rect x="875" y="407.5" width="7" height="2.5" fill="#1d1b16"/><rect x="806" y="442.1" width="71.5" height="3.5" fill="#1d1b16"/><line x1="806" y1="443.85" x2="877.5" y2="443.85" stroke="#6a644e" stroke-width="0.7"/><rect x="848" y="425.9" width="6" height="16.6" fill="#fff" stroke="#1d1b16" stroke-width="1.7"/><rect x="853.5" y="420.8" width="2.7" height="23" fill="#1d1b16"/><rect x="853.5" y="420.8" width="6" height="2.5" fill="#1d1b16"/><ellipse cx="859.3" cy="435.8" rx="2.1" ry="3.0" fill="#fff" stroke="#444" stroke-width="0.9"/><rect x="867.3" y="422.2" width="8" height="20.2" fill="#fff" stroke="#1d1b16" stroke-width="1.8"/><rect x="869.3" y="424" width="4" height="16.5" fill="#fff" stroke="#999" stroke-width="0.6"/><rect x="874.8" y="420.8" width="3.4" height="23" fill="#1d1b16"/><rect x="896.5" y="378.5" width="2.5" height="6.5" fill="#1d1b16"/><rect x="896.5" y="395" width="2.5" height="16.5" fill="#1d1b16"/><line x1="899" y1="384.8" x2="909" y2="384.8" stroke="#999" stroke-width="0.8"/><path d="M909,384.8 A10,10 0 0 1 899,395" fill="none" stroke="#cfcfcf" stroke-width="0.7"/><path d="M877.5,410 A9,9 0 0 0 886,402" fill="none" stroke="#cfcfcf" stroke-width="0.7"/><path d="M862.4,411 A12,12 0 0 1 874,421" fill="none" stroke="#cfcfcf" stroke-width="0.7"/><path d="M884,367 A11,11 0 0 0 895,378" fill="none" stroke="#cfcfcf" stroke-width="0.7"/><path d="M904,371 A8,8 0 0 0 896,379" fill="none" stroke="#cfcfcf" stroke-width="0.7"/><line x1="886.7" y1="409" x2="886.7" y2="420" stroke="#aaa" stroke-width="0.8"/></g><g><rect x="893.7" y="411.4" width="50.4" height="5.4" fill="#f2d7db" stroke="#4a3f42" stroke-width="0.8"/><rect x="893.7" y="471.6" width="50.4" height="4.9" fill="#f2d7db" stroke="#4a3f42" stroke-width="0.8"/><rect x="943.9" y="411.2" width="4.6" height="65.3" fill="#f2d7db" stroke="#b88e96" stroke-width="0.6"/><rect x="895.4" y="417.6" width="22.3" height="41.4" fill="#fff" stroke="#1d1b16" stroke-width="1.3"/><rect x="897.6" y="420" width="17.9" height="36.5" fill="#fff" stroke="#555" stroke-width="1.0"/><rect x="899.5" y="425.2" width="12.6" height="23.2" fill="#fff" stroke="#1d1b16" stroke-width="1.6"/><rect x="899.5" y="452.3" width="14.5" height="4.6" fill="#e9e2bb"/><rect x="895.4" y="453.4" width="4.2" height="5.6" fill="#eee" stroke="#1d1b16" stroke-width="0.8"/><rect x="913.6" y="453.4" width="4.1" height="5.6" fill="#eee" stroke="#1d1b16" stroke-width="0.8"/><rect x="918.6" y="429.5" width="25.3" height="28.8" fill="#fff" stroke="#333" stroke-width="0.8"/><rect x="924.2" y="423.8" width="13.5" height="5.7" fill="#fff" stroke="#666" stroke-width="0.8"/><line x1="924.7" y1="429.5" x2="924.7" y2="458.3" stroke="#bbb" stroke-width="0.5"/><line x1="937.7" y1="429.5" x2="937.7" y2="458.3" stroke="#bbb" stroke-width="0.5"/><line x1="931" y1="429.5" x2="931" y2="458.3" stroke="#1d1b16" stroke-width="1.7"/><rect x="944.1" y="450" width="3.8" height="10.5" fill="#1d1b16"/><line x1="963" y1="416" x2="963" y2="472" stroke="#999" stroke-width="1.0"/><path d="M938,471 A6,6 0 0 1 944,465" fill="none" stroke="#cfcfcf" stroke-width="0.7"/><path d="M895,462 A14,14 0 0 1 911,471" fill="none" stroke="#cfcfcf" stroke-width="0.7"/><line x1="918.6" y1="432.38" x2="943.9" y2="432.38" stroke="#444" stroke-width="0.75"/><line x1="918.6" y1="435.26" x2="943.9" y2="435.26" stroke="#444" stroke-width="0.75"/><line x1="918.6" y1="438.14" x2="943.9" y2="438.14" stroke="#444" stroke-width="0.75"/><line x1="918.6" y1="441.02" x2="943.9" y2="441.02" stroke="#444" stroke-width="0.75"/><line x1="918.6" y1="443.9" x2="943.9" y2="443.9" stroke="#444" stroke-width="0.75"/><line x1="918.6" y1="446.78" x2="943.9" y2="446.78" stroke="#444" stroke-width="0.75"/><line x1="918.6" y1="449.66" x2="943.9" y2="449.66" stroke="#444" stroke-width="0.75"/><line x1="918.6" y1="452.54" x2="943.9" y2="452.54" stroke="#444" stroke-width="0.75"/><line x1="918.6" y1="455.42" x2="943.9" y2="455.42" stroke="#444" stroke-width="0.75"/></g><path d="M837.3,342.9 H960.7 V414" fill="none" stroke="#1d1b16" stroke-width="4.4" stroke-linejoin="miter" stroke-linecap="square"/><path d="M837.3,342.9 H960.7 V414" fill="none" stroke="#958f74" stroke-width="0.9" stroke-linejoin="miter"/><path d="M960.7,474 V544.3 H837.6 V509.9 H803.6 V378 H837.3 V340.7" fill="none" stroke="#1d1b16" stroke-width="4.4" stroke-linejoin="miter" stroke-linecap="square"/><path d="M960.7,474 V544.3 H837.6 V509.9 H803.6 V378 H837.3 V340.7" fill="none" stroke="#958f74" stroke-width="0.9" stroke-linejoin="miter"/><rect x="947.5" y="412" width="15.2" height="4" fill="#1d1b16"/><rect x="947.5" y="472" width="15.2" height="4.6" fill="#1d1b16"/><line x1="804.1" y1="382" x2="804.1" y2="406.5" stroke="#fff" stroke-width="1.1"/><line x1="804.1" y1="415.5" x2="804.1" y2="439.5" stroke="#fff" stroke-width="1.1"/><line x1="804.1" y1="449" x2="804.1" y2="473.5" stroke="#fff" stroke-width="1.1"/><line x1="804.1" y1="482.5" x2="804.1" y2="505" stroke="#fff" stroke-width="1.1"/><line x1="960.2" y1="348.5" x2="960.2" y2="372" stroke="#fff" stroke-width="1.1"/><line x1="960.2" y1="386.5" x2="960.2" y2="404.5" stroke="#fff" stroke-width="1.1"/><line x1="960.2" y1="481" x2="960.2" y2="493" stroke="#fff" stroke-width="1.1"/><line x1="960.2" y1="507.5" x2="960.2" y2="533.5" stroke="#fff" stroke-width="1.1"/></g>
<g font-family="Liberation Sans, sans-serif"><rect x="162.4" y="170.1" width="19.0" height="12.400000000000006" fill="#fff" stroke="#666" stroke-width="0.9"/><line x1="170.3" y1="170.1" x2="170.3" y2="182.5" stroke="#666" stroke-width="0.9"/><line x1="170.3" y1="176.3" x2="181.4" y2="176.3" stroke="#666" stroke-width="0.8"/><text x="166.10000000000002" y="178.5" text-anchor="middle" font-size="6.2" fill="#444">1</text><text x="176.10000000000002" y="174.25" text-anchor="middle" font-size="3.6" fill="#777">15,0</text><text x="176.10000000000002" y="180.95000000000002" text-anchor="middle" font-size="3.6" fill="#777">30,2</text><rect x="261.7" y="170.2" width="19.30000000000001" height="12.100000000000023" fill="#fff" stroke="#666" stroke-width="0.9"/><line x1="269.726" y1="170.2" x2="269.726" y2="182.3" stroke="#666" stroke-width="0.9"/><line x1="269.726" y1="176.25" x2="281.0" y2="176.25" stroke="#666" stroke-width="0.8"/><text x="265.46299999999997" y="178.45" text-anchor="middle" font-size="6.2" fill="#444">1</text><text x="275.613" y="174.275" text-anchor="middle" font-size="3.6" fill="#777">14,7</text><text x="275.613" y="180.82500000000002" text-anchor="middle" font-size="3.6" fill="#777">30,4</text><rect x="292.6" y="170.2" width="19.299999999999955" height="12.100000000000023" fill="#fff" stroke="#666" stroke-width="0.9"/><line x1="300.626" y1="170.2" x2="300.626" y2="182.3" stroke="#666" stroke-width="0.9"/><line x1="300.626" y1="176.25" x2="311.9" y2="176.25" stroke="#666" stroke-width="0.8"/><text x="296.363" y="178.45" text-anchor="middle" font-size="6.2" fill="#444">1</text><text x="306.513" y="174.275" text-anchor="middle" font-size="3.6" fill="#777">14,7</text><text x="306.513" y="180.82500000000002" text-anchor="middle" font-size="3.6" fill="#777">30,4</text><rect x="392.7" y="170.0" width="18.80000000000001" height="12.5" fill="#fff" stroke="#666" stroke-width="0.9"/><line x1="400.516" y1="170.0" x2="400.516" y2="182.5" stroke="#666" stroke-width="0.9"/><line x1="400.516" y1="176.25" x2="411.5" y2="176.25" stroke="#666" stroke-width="0.8"/><text x="396.358" y="178.45" text-anchor="middle" font-size="6.2" fill="#444">1</text><text x="406.25800000000004" y="174.175" text-anchor="middle" font-size="3.6" fill="#777">15,0</text><text x="406.25800000000004" y="180.925" text-anchor="middle" font-size="3.6" fill="#777">30,2</text><rect x="124.0" y="244.9" width="19.19999999999999" height="12.099999999999994" fill="#fff" stroke="#666" stroke-width="0.9"/><line x1="131.98399999999998" y1="244.9" x2="131.98399999999998" y2="257.0" stroke="#666" stroke-width="0.9"/><line x1="131.98399999999998" y1="250.95" x2="143.2" y2="250.95" stroke="#666" stroke-width="0.8"/><text x="127.74199999999999" y="253.14999999999998" text-anchor="middle" font-size="6.2" fill="#444">2</text><text x="137.84199999999998" y="248.97500000000002" text-anchor="middle" font-size="3.6" fill="#777">30,5</text><text x="137.84199999999998" y="255.525" text-anchor="middle" font-size="3.6" fill="#777">55,9</text><rect x="191.3" y="231.5" width="19.0" height="12.400000000000006" fill="#fff" stroke="#666" stroke-width="0.9"/><line x1="199.20000000000002" y1="231.5" x2="199.20000000000002" y2="243.9" stroke="#666" stroke-width="0.9"/><line x1="199.20000000000002" y1="237.7" x2="210.3" y2="237.7" stroke="#666" stroke-width="0.8"/><text x="195.0" y="239.89999999999998" text-anchor="middle" font-size="6.2" fill="#444">1</text><text x="205.0" y="235.65" text-anchor="middle" font-size="3.6" fill="#777">17,5</text><text x="205.0" y="242.35000000000002" text-anchor="middle" font-size="3.6" fill="#777">34,7</text><rect x="363.7" y="228.5" width="19.5" height="12.300000000000011" fill="#fff" stroke="#666" stroke-width="0.9"/><line x1="371.81" y1="228.5" x2="371.81" y2="240.8" stroke="#666" stroke-width="0.9"/><line x1="371.81" y1="234.65" x2="383.2" y2="234.65" stroke="#666" stroke-width="0.8"/><text x="367.505" y="236.85" text-anchor="middle" font-size="6.2" fill="#444">1</text><text x="377.755" y="232.625" text-anchor="middle" font-size="3.6" fill="#777">17,7</text><text x="377.755" y="239.27500000000003" text-anchor="middle" font-size="3.6" fill="#777">35,2</text><rect x="430.7" y="244.4" width="18.30000000000001" height="12.499999999999972" fill="#fff" stroke="#666" stroke-width="0.9"/><line x1="438.306" y1="244.4" x2="438.306" y2="256.9" stroke="#666" stroke-width="0.9"/><line x1="438.306" y1="250.64999999999998" x2="449.0" y2="250.64999999999998" stroke="#666" stroke-width="0.8"/><text x="434.253" y="252.84999999999997" text-anchor="middle" font-size="6.2" fill="#444">2</text><text x="443.903" y="248.57500000000002" text-anchor="middle" font-size="3.6" fill="#777">30,5</text><text x="443.903" y="255.325" text-anchor="middle" font-size="3.6" fill="#777">55,9</text><rect x="506.0" y="170.5" width="18.5" height="12.5" fill="#fff" stroke="#666" stroke-width="0.9"/><line x1="513.69" y1="170.5" x2="513.69" y2="183.0" stroke="#666" stroke-width="0.9"/><line x1="513.69" y1="176.75" x2="524.5" y2="176.75" stroke="#666" stroke-width="0.8"/><text x="509.595" y="178.95" text-anchor="middle" font-size="6.2" fill="#444">1</text><text x="519.345" y="174.675" text-anchor="middle" font-size="3.6" fill="#777">15,1</text><text x="519.345" y="181.425" text-anchor="middle" font-size="3.6" fill="#777">37,3</text><rect x="469.8" y="244.5" width="18.399999999999977" height="12.300000000000011" fill="#fff" stroke="#666" stroke-width="0.9"/><line x1="477.448" y1="244.5" x2="477.448" y2="256.8" stroke="#666" stroke-width="0.9"/><line x1="477.448" y1="250.65" x2="488.2" y2="250.65" stroke="#666" stroke-width="0.8"/><text x="473.374" y="252.85" text-anchor="middle" font-size="6.2" fill="#444">2</text><text x="483.07399999999996" y="248.625" text-anchor="middle" font-size="3.6" fill="#777">30,5</text><text x="483.07399999999996" y="255.27500000000003" text-anchor="middle" font-size="3.6" fill="#777">55,7</text><rect x="536.1" y="230.9" width="19.199999999999932" height="12.0" fill="#fff" stroke="#666" stroke-width="0.9"/><line x1="544.084" y1="230.9" x2="544.084" y2="242.9" stroke="#666" stroke-width="0.9"/><line x1="544.084" y1="236.9" x2="555.3" y2="236.9" stroke="#666" stroke-width="0.8"/><text x="539.842" y="239.1" text-anchor="middle" font-size="6.2" fill="#444">1</text><text x="549.942" y="234.95000000000002" text-anchor="middle" font-size="3.6" fill="#777">17,3</text><text x="549.942" y="241.45000000000002" text-anchor="middle" font-size="3.6" fill="#777">34,9</text><rect x="605.7" y="170.7" width="19.299999999999955" height="12.400000000000006" fill="#fff" stroke="#666" stroke-width="0.9"/><line x1="613.726" y1="170.7" x2="613.726" y2="183.1" stroke="#666" stroke-width="0.9"/><line x1="613.726" y1="176.89999999999998" x2="625.0" y2="176.89999999999998" stroke="#666" stroke-width="0.8"/><text x="609.463" y="179.09999999999997" text-anchor="middle" font-size="6.2" fill="#444">1</text><text x="619.613" y="174.85" text-anchor="middle" font-size="3.6" fill="#777">14,8</text><text x="619.613" y="181.55" text-anchor="middle" font-size="3.6" fill="#777">30,4</text><rect x="638.6" y="170.7" width="18.600000000000023" height="12.400000000000006" fill="#fff" stroke="#666" stroke-width="0.9"/><line x1="646.332" y1="170.7" x2="646.332" y2="183.1" stroke="#666" stroke-width="0.9"/><line x1="646.332" y1="176.89999999999998" x2="657.2" y2="176.89999999999998" stroke="#666" stroke-width="0.8"/><text x="642.216" y="179.09999999999997" text-anchor="middle" font-size="6.2" fill="#444">1</text><text x="652.0160000000001" y="174.85" text-anchor="middle" font-size="3.6" fill="#777">14,8</text><text x="652.0160000000001" y="181.55" text-anchor="middle" font-size="3.6" fill="#777">30,7</text><rect x="741.7" y="170.5" width="18.699999999999932" height="12.699999999999989" fill="#fff" stroke="#666" stroke-width="0.9"/><line x1="749.474" y1="170.5" x2="749.474" y2="183.2" stroke="#666" stroke-width="0.9"/><line x1="749.474" y1="176.85" x2="760.4" y2="176.85" stroke="#666" stroke-width="0.8"/><text x="745.337" y="179.04999999999998" text-anchor="middle" font-size="6.2" fill="#444">1</text><text x="755.187" y="174.72500000000002" text-anchor="middle" font-size="3.6" fill="#777">15,4</text><text x="755.187" y="181.575" text-anchor="middle" font-size="3.6" fill="#777">30,8</text><rect x="709.5" y="230.8" width="19.200000000000045" height="12.0" fill="#fff" stroke="#666" stroke-width="0.9"/><line x1="717.484" y1="230.8" x2="717.484" y2="242.8" stroke="#666" stroke-width="0.9"/><line x1="717.484" y1="236.8" x2="728.7" y2="236.8" stroke="#666" stroke-width="0.8"/><text x="713.242" y="239.0" text-anchor="middle" font-size="6.2" fill="#444">1</text><text x="723.3420000000001" y="234.85000000000002" text-anchor="middle" font-size="3.6" fill="#777">17,8</text><text x="723.3420000000001" y="241.35000000000002" text-anchor="middle" font-size="3.6" fill="#777">35,2</text><rect x="839.5" y="388.5" width="19" height="12.699999999999989" fill="#fff" stroke="#666" stroke-width="0.9"/><line x1="847.4" y1="388.5" x2="847.4" y2="401.2" stroke="#666" stroke-width="0.9"/><line x1="847.4" y1="394.85" x2="858.5" y2="394.85" stroke="#666" stroke-width="0.8"/><text x="843.2" y="397.05" text-anchor="middle" font-size="6.2" fill="#444">1</text><text x="853.2" y="392.725" text-anchor="middle" font-size="3.6" fill="#777">15,4</text><text x="853.2" y="399.575" text-anchor="middle" font-size="3.6" fill="#777">30,9</text><rect x="903.8" y="391.2" width="19.0" height="12.800000000000011" fill="#fff" stroke="#666" stroke-width="0.9"/><line x1="911.6999999999999" y1="391.2" x2="911.6999999999999" y2="404.0" stroke="#666" stroke-width="0.9"/><line x1="911.6999999999999" y1="397.6" x2="922.8" y2="397.6" stroke="#666" stroke-width="0.8"/><text x="907.5" y="399.8" text-anchor="middle" font-size="6.2" fill="#444">2</text><text x="917.5" y="395.45" text-anchor="middle" font-size="3.6" fill="#777">20,4</text><text x="917.5" y="402.35" text-anchor="middle" font-size="3.6" fill="#777">50,5</text><rect x="839.5" y="487.8" width="19" height="12.300000000000011" fill="#fff" stroke="#666" stroke-width="0.9"/><line x1="847.4" y1="487.8" x2="847.4" y2="500.1" stroke="#666" stroke-width="0.9"/><line x1="847.4" y1="493.95000000000005" x2="858.5" y2="493.95000000000005" stroke="#666" stroke-width="0.8"/><text x="843.2" y="496.15000000000003" text-anchor="middle" font-size="6.2" fill="#444">1</text><text x="853.2" y="491.925" text-anchor="middle" font-size="3.6" fill="#777">15,4</text><text x="853.2" y="498.57500000000005" text-anchor="middle" font-size="3.6" fill="#777">30,9</text><rect x="903.8" y="484.5" width="19.0" height="12.199999999999989" fill="#fff" stroke="#666" stroke-width="0.9"/><line x1="911.6999999999999" y1="484.5" x2="911.6999999999999" y2="496.7" stroke="#666" stroke-width="0.9"/><line x1="911.6999999999999" y1="490.6" x2="922.8" y2="490.6" stroke="#666" stroke-width="0.8"/><text x="907.5" y="492.8" text-anchor="middle" font-size="6.2" fill="#444">2</text><text x="917.5" y="488.6" text-anchor="middle" font-size="3.6" fill="#777">20,4</text><text x="917.5" y="495.2" text-anchor="middle" font-size="3.6" fill="#777">50,7</text><rect x="860.4" y="594.1" width="18.899999999999977" height="12.799999999999955" fill="#fff" stroke="#666" stroke-width="0.9"/><line x1="868.2579999999999" y1="594.1" x2="868.2579999999999" y2="606.9" stroke="#666" stroke-width="0.9"/><line x1="868.2579999999999" y1="600.5" x2="879.3" y2="600.5" stroke="#666" stroke-width="0.8"/><text x="864.079" y="602.7" text-anchor="middle" font-size="6.2" fill="#444">1</text><text x="874.029" y="598.3499999999999" text-anchor="middle" font-size="3.6" fill="#777">15,6</text><text x="874.029" y="605.25" text-anchor="middle" font-size="3.6" fill="#777">30,1</text><rect x="933.3" y="597.1" width="19.100000000000023" height="12.600000000000023" fill="#fff" stroke="#666" stroke-width="0.9"/><line x1="941.242" y1="597.1" x2="941.242" y2="609.7" stroke="#666" stroke-width="0.9"/><line x1="941.242" y1="603.4000000000001" x2="952.4" y2="603.4000000000001" stroke="#666" stroke-width="0.8"/><text x="937.021" y="605.6000000000001" text-anchor="middle" font-size="6.2" fill="#444">2</text><text x="947.0709999999999" y="601.3" text-anchor="middle" font-size="3.6" fill="#777">20,4</text><text x="947.0709999999999" y="608.1" text-anchor="middle" font-size="3.6" fill="#777">49,7</text><rect x="860.7" y="693.3" width="18.699999999999932" height="12.200000000000045" fill="#fff" stroke="#666" stroke-width="0.9"/><line x1="868.474" y1="693.3" x2="868.474" y2="705.5" stroke="#666" stroke-width="0.9"/><line x1="868.474" y1="699.4" x2="879.4" y2="699.4" stroke="#666" stroke-width="0.8"/><text x="864.337" y="701.6" text-anchor="middle" font-size="6.2" fill="#444">1</text><text x="874.187" y="697.3999999999999" text-anchor="middle" font-size="3.6" fill="#777">14,7</text><text x="874.187" y="704.0" text-anchor="middle" font-size="3.6" fill="#777">26,8</text><rect x="932.8" y="690.0" width="18.40000000000009" height="13.5" fill="#fff" stroke="#666" stroke-width="0.9"/><line x1="940.448" y1="690.0" x2="940.448" y2="703.5" stroke="#666" stroke-width="0.9"/><line x1="940.448" y1="696.75" x2="951.2" y2="696.75" stroke="#666" stroke-width="0.8"/><text x="936.374" y="698.95" text-anchor="middle" font-size="6.2" fill="#444">2</text><text x="946.0740000000001" y="694.425" text-anchor="middle" font-size="3.6" fill="#777">20,4</text><text x="946.0740000000001" y="701.675" text-anchor="middle" font-size="3.6" fill="#777">50,2</text></g>
<g font-family="Liberation Sans, sans-serif" font-size="11" fill="#262626" stroke="#262626" stroke-width="0.25"><text x="170.3" y="151.7" text-anchor="middle">27</text><text x="273.2" y="151.2" text-anchor="middle">28</text><text x="303.6" y="149.8" text-anchor="middle">29</text><text x="404.5" y="152" text-anchor="middle">30</text><text x="133.7" y="273.8" text-anchor="middle">26</text><text x="210" y="276.2" text-anchor="middle">25</text><text x="373.4" y="271.5" text-anchor="middle">32</text><text x="441.3" y="271.9" text-anchor="middle">31</text><text x="514.5" y="158" text-anchor="middle">59</text><text x="478.5" y="268.8" text-anchor="middle">58</text><text x="548.8" y="270.3" text-anchor="middle">57</text><text x="617.1" y="156.8" text-anchor="middle">60</text><text x="649.4" y="156.4" text-anchor="middle">61</text><text x="751.2" y="155.6" text-anchor="middle">62</text><text x="716.4" y="271.9" text-anchor="middle">63</text><text x="825.6" y="398.3" text-anchor="middle">93</text><text x="942.5" y="399.6" text-anchor="middle">94</text><text x="822.1" y="497.8" text-anchor="middle">92</text><text x="940.8" y="496.5" text-anchor="middle">91</text><text x="846.1" y="603.3" text-anchor="middle">112</text><text x="970" y="605.5" text-anchor="middle">113</text><text x="845.5" y="705.2" text-anchor="middle">111</text><text x="970.6" y="702" text-anchor="middle">110</text></g>
</svg>
<svg width="1034" height="800" viewBox="0 0 1034 800" style="position:absolute;left:0;top:0">
<g fill="none" stroke="#f0834a" stroke-width="4.7">
<circle cx="29.15" cy="35.3" r="6.7"/>
<path d="M43.1,26.6 V43.6 M43.1,34.1 A4.975,4.975 0 0 1 53.05,34.1 V43.6 M53.05,34.1 A5.175,5.175 0 0 1 63.4,34.1 V43.6"/>
<path d="M72.65,20.4 V43.6 M72.65,34.2 A5.2,5.2 0 0 1 83.05,34.2 V43.6"/>
<circle cx="97.9" cy="35.3" r="6.6"/>
<path d="M111.45,26.6 V43.6 M111.45,34.1 A5.1,5.1 0 0 1 121.65,34.1 V43.6 M121.65,34.1 A5.225,5.225 0 0 1 132.1,34.1 V43.6"/>
<path stroke-width="4.3" d="M151.7,35.6 A6.0,6.0 0 1 0 150.9,39.1"/>
</g>
<rect x="141" y="34.3" width="12.6" height="3.1" fill="#f0834a"/>
</svg>
</body></html>
